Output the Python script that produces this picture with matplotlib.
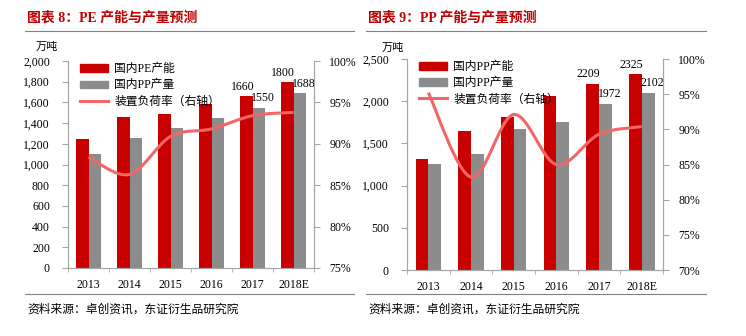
import numpy as np
import matplotlib
matplotlib.use('Agg')
import matplotlib.pyplot as plt
from matplotlib.path import Path
from matplotlib.patches import PathPatch, Patch
from matplotlib.lines import Line2D
from matplotlib.ticker import FuncFormatter

plt.rcParams['font.family'] = ['Liberation Serif', 'Noto Sans CJK SC']

# 数据
years = ['2013', '2014', '2015', '2016', '2017', '2018E']
pe_cap = [1250, 1460, 1490, 1580, 1660, 1800]
pe_out = [1105, 1260, 1355, 1450, 1550, 1688]
pe_rate = [88.4, 86.3, 90.9, 91.8, 93.4, 93.8]
pp_cap = [1316, 1647, 1810, 2057, 2209, 2325]
pp_out = [1253, 1371, 1667, 1749, 1972, 2102]
pp_rate = [95.2, 83.2, 92.1, 85.0, 89.3, 90.4]

RED = '#C80000'
GRAY = '#8C8C8C'
LINE = '#F26666'
SPINE = '#A6A6A6'
TITLE_RED = '#C00000'


def smooth_path(xs, ys):
    # Excel风格平滑曲线（三次贝塞尔）
    p = np.column_stack([xs, ys]).astype(float)
    n = len(p)
    verts = [p[0]]
    codes = [Path.MOVETO]
    for i in range(n - 1):
        p0 = p[i - 1] if i > 0 else p[i]
        p3 = p[i + 2] if i + 2 < n else p[i + 1]
        c1 = p[i] + (p[i + 1] - p0) / 6
        c2 = p[i + 1] - (p3 - p[i]) / 6
        verts += [c1, c2, p[i + 1]]
        codes += [Path.CURVE4] * 3
    return Path(verts, codes)


def panel(fig, rect, cap, out, rate, ymax, ystep, rmin, legend_names):
    ax = fig.add_axes(rect)
    x = np.arange(len(years))
    w = 0.3
    ax.bar(x - w / 2, cap, w, color=RED, zorder=2)
    ax.bar(x + w / 2, out, w, color=GRAY, zorder=2)
    ax.set_xlim(-0.5, len(years) - 0.5)
    ax.set_ylim(0, ymax)
    ax.set_yticks(np.arange(0, ymax + 1, ystep))
    ax.yaxis.set_major_formatter(FuncFormatter(lambda v, p: f'{int(v):,}'))
    ax.set_xticks(x)
    ax.set_xticklabels(years)
    ax.set_xticks(np.arange(-0.5, len(years), 1), minor=True)
    ax.tick_params(axis='x', which='major', length=0, pad=8, labelsize=8.5)
    ax.tick_params(axis='x', which='minor', length=3, color=SPINE, direction='out')
    ax.tick_params(axis='y', length=4, color=SPINE, pad=9, labelsize=8.5)
    ax.spines['top'].set_visible(False)
    for s in ['left', 'bottom', 'right']:
        ax.spines[s].set_color(SPINE)
    # 2017、2018E 数据标签
    for i in [4, 5]:
        ax.text(x[i] - w / 2 - 0.1, cap[i] + ymax * 0.015, str(cap[i]), ha='center', va='bottom', fontsize=8.5)
        ax.text(x[i] + w / 2 + 0.1, out[i] + ymax * 0.015, str(out[i]), ha='center', va='bottom', fontsize=8.5)

    ax2 = ax.twinx()
    ax2.set_ylim(rmin, 100)
    ax2.set_yticks(np.arange(rmin, 101, 5))
    ax2.yaxis.set_major_formatter(FuncFormatter(lambda v, p: f'{int(v)}%'))
    ax2.tick_params(axis='y', length=4, color=SPINE, pad=7, labelsize=8.5)
    ax2.spines['top'].set_visible(False)
    for s in ['left', 'bottom', 'right']:
        ax2.spines[s].set_color(SPINE)
    ax2.add_patch(PathPatch(smooth_path(x, rate), fill=False, edgecolor=LINE, lw=2.2, zorder=3))

    handles = [Patch(color=RED), Patch(color=GRAY), Line2D([], [], color=LINE, lw=2.2)]
    ax2.legend(handles, legend_names, loc='upper left', bbox_to_anchor=(0.005, 1.04), frameon=False,
               fontsize=8.5, handlelength=2.4, handleheight=0.6, labelspacing=0.35, handletextpad=0.5)
    return ax


fig = plt.figure(figsize=(7.46, 3.36), dpi=100)

panel(fig, [0.0912, 0.2024, 0.3298, 0.616], pe_cap, pe_out, pe_rate, 2000, 200, 75,
      ['国内PE产能', '国内PP产量', '装置负荷率（右轴）'])
panel(fig, [0.5456, 0.1964, 0.3432, 0.628], pp_cap, pp_out, pp_rate, 2500, 500, 70,
      ['国内PP产能', '国内PP产量', '装置负荷率（右轴）'])

# 标题、单位、分隔线、来源
for x0, x1, t in [(27, 354, '图表 8：PE 产能与产量预测'), (368, 706, '图表 9：PP 产能与产量预测')]:
    fig.text(x0 / 746, 1 - 18 / 336, t, color=TITLE_RED, fontsize=10, fontweight='bold', va='center')
    fig.add_artist(Line2D([(x0 - 2) / 746, x1 / 746], [1 - 31 / 336] * 2, color='#808080', lw=0.8))
    fig.add_artist(Line2D([(x0 - 2) / 746, x1 / 746], [1 - 294 / 336] * 2, color='#808080', lw=0.8))
    fig.text(x0 / 746, 1 - 310 / 336, '资料来源：卓创资讯，东证衍生品研究院', fontsize=8.5, va='center')
fig.text(36 / 746, 1 - 47 / 336, '万吨', fontsize=8, va='center')
fig.text(382 / 746, 1 - 48 / 336, '万吨', fontsize=8, va='center')

fig.savefig('out.png', dpi=100)
